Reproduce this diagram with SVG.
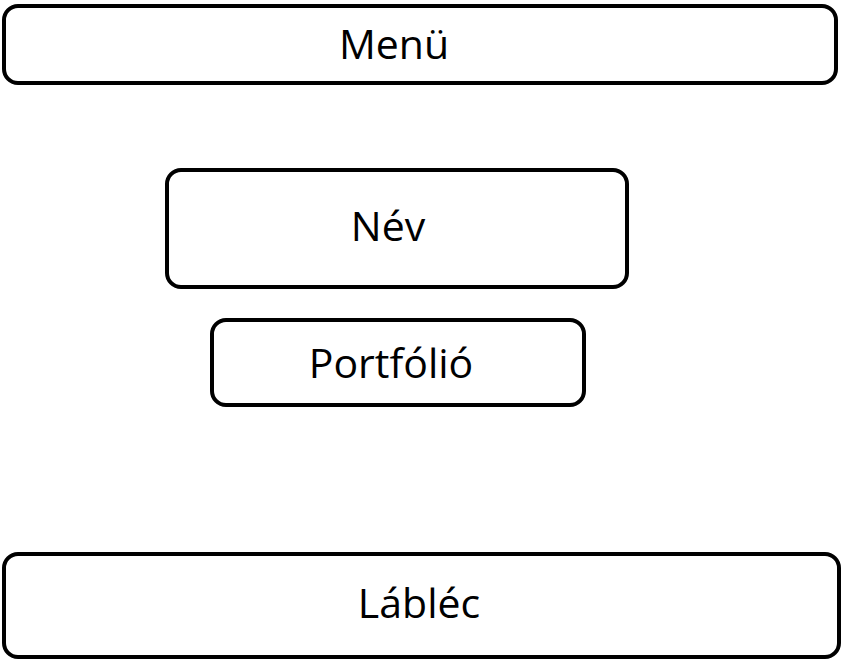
<svg xmlns="http://www.w3.org/2000/svg" width="844" height="665" viewBox="0 0 844 665">
<style>
.box{fill:#fff;stroke:#000;stroke-width:4}
.lbl{font-family:"Open Sans","Liberation Sans",sans-serif;font-size:41px;fill:#000;text-anchor:middle}
</style>
<rect width="844" height="665" fill="#fff"/>
<g id="menu"><rect class="box" x="4" y="6" width="832" height="77" rx="14"/><text class="lbl" x="394" y="59">Menü</text></g>
<g id="nev"><rect class="box" x="167" y="170" width="460" height="117" rx="14"/><text class="lbl" x="388" y="241">Név</text></g>
<g id="portfolio"><rect class="box" x="212" y="320" width="372" height="85" rx="14"/><text class="lbl" x="391" y="378">Portfólió</text></g>
<g id="lablec"><rect class="box" x="4" y="554" width="835" height="103" rx="14"/><text class="lbl" x="419" y="618">Lábléc</text></g>
<g id="connectors"/>
</svg>
